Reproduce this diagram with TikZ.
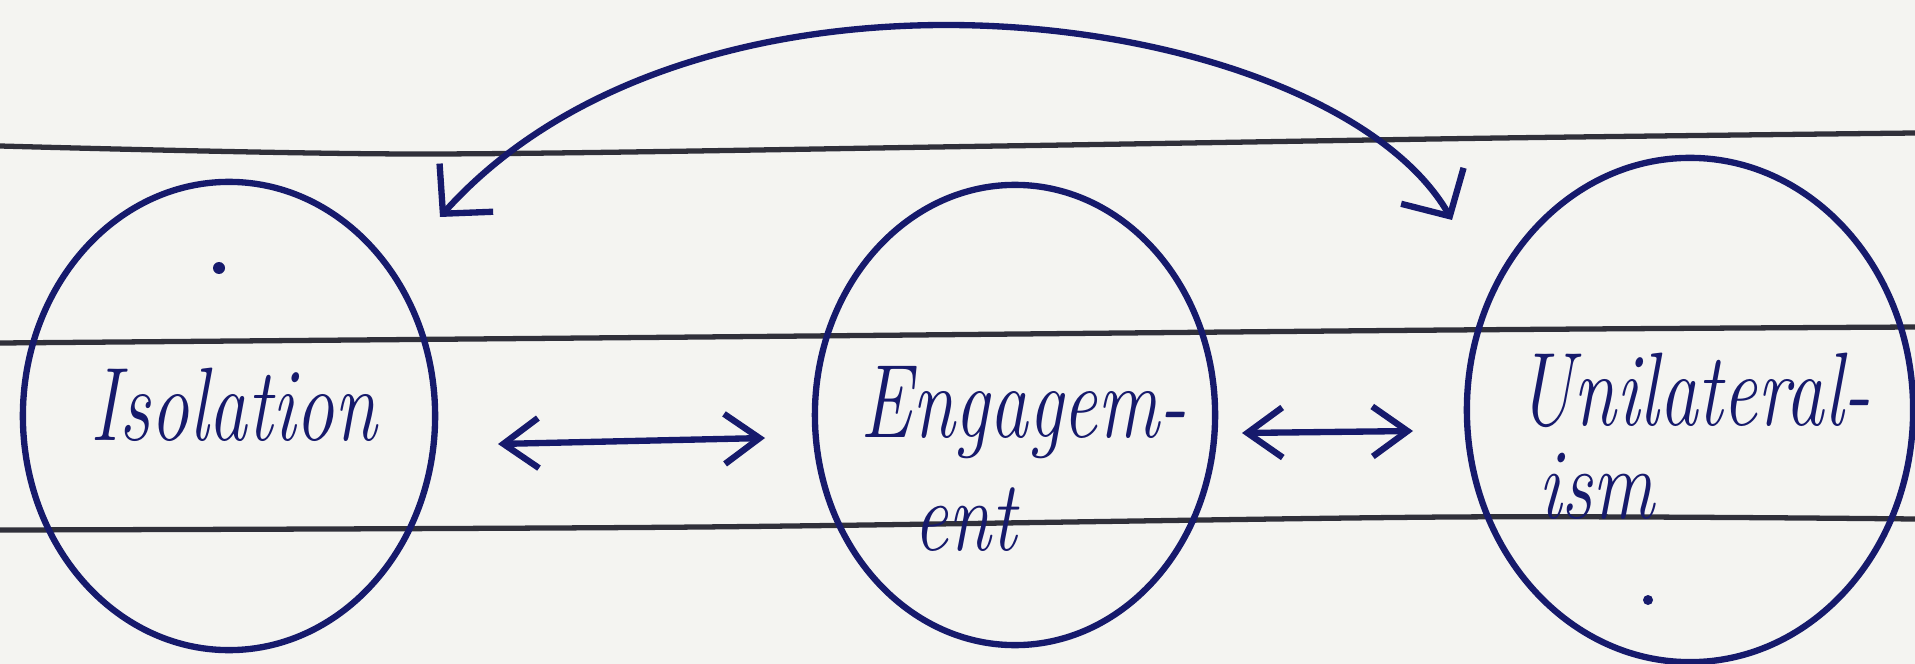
\documentclass[tikz,border=0pt]{standalone}
\usetikzlibrary{shapes.geometric,arrows.meta}
\definecolor{ink}{RGB}{22,26,108}
\definecolor{rule}{RGB}{48,48,58}
\definecolor{paper}{RGB}{244,244,241}
\begin{document}
\begin{tikzpicture}[x=0.01cm,y=-0.01cm,
  penline/.style={draw=ink,line width=1.8pt,line cap=round,line join=round},
  bubble/.style={ellipse,penline,inner sep=0pt},
  ruled/.style={draw=rule,line width=1.5pt},
  hand/.style={text=ink,inner sep=0pt,font=\fontsize{22}{26}\selectfont\itshape},
  dbl/.style={penline,{Straight Barb[length=3.5mm,width=5mm]}-{Straight Barb[length=3.5mm,width=5mm]}},
  arcarrow/.style={penline,{Straight Barb[length=3.5mm,width=7.2mm]}-{Straight Barb[length=3.5mm,width=7.2mm]}}
]
\fill[paper] (0,0) rectangle (1915,664);
\useasboundingbox (0,0) rectangle (1915,664);
% ruled lines of the paper
\draw[ruled] plot[smooth] coordinates {(0,146) (420,154) (1000,146) (1500,138) (1915,133)};
\draw[ruled] plot[smooth] coordinates {(0,343) (700,337) (1450,330) (1915,327)};
\draw[ruled] plot[smooth] coordinates {(0,530) (700,527) (1450,517) (1915,519)};
% bubbles
\node[bubble,minimum width=4.12cm,minimum height=4.68cm] (iso) at (229,416) {};
\node[bubble,minimum width=4.00cm,minimum height=4.60cm] (eng) at (1015,415) {};
\node[bubble,minimum width=4.46cm,minimum height=5.04cm] (uni) at (1690,410) {};
% labels
\node[hand,anchor=base west] (tiso) at (90,440) {\scalebox{1}[1.35]{Isolation}};
\node[hand,anchor=base west] (teng1) at (860,437) {\scalebox{1}[1.35]{Engagem-}};
\node[hand,anchor=base west] (teng2) at (913,550) {\scalebox{1}[1.3]{ent}};
\node[hand,anchor=base west] (tuni1) at (1517,425) {\scalebox{1}[1.35]{Unilateral-}};
\node[hand,anchor=base west] (tuni2) at (1538,518) {\scalebox{1}[1.3]{ism}};
% connector ends
\coordinate (a1L) at (498,444);
\coordinate (a1R) at (765,438);
\coordinate (a2L) at (1242,433);
\coordinate (a2R) at (1413,431);
\coordinate (arcL) at (440,217);
\coordinate (arcR) at (1452,220);
% connectors
\draw[dbl] (a1L) -- (a1R);
\draw[dbl] (a2L) -- (a2R);
\draw[arcarrow] (arcL) .. controls (706,-79) and (1330,8) .. (arcR);
% stray pen dots
\fill[ink] (219,268) circle (6);
\fill[ink] (1648,600) circle (5);
\end{tikzpicture}
\end{document}
